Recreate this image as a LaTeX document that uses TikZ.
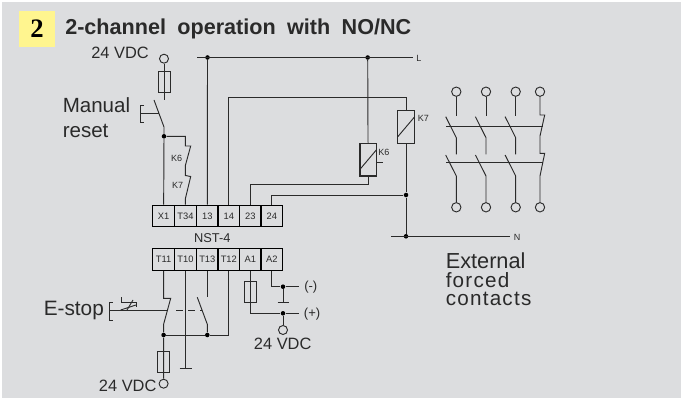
\documentclass[tikz,border=0pt]{standalone}
\usepackage{fontspec}
\setmainfont{Liberation Sans}
\newfontfamily\badgefont{Liberation Serif}
\newfontfamily\spacedfont[LetterSpace=6]{Liberation Sans}
\definecolor{panelgray}{HTML}{DCDDDF}
\definecolor{badgeyellow}{HTML}{FFF58F}
\definecolor{inkgray}{HTML}{2A2A2A}
\tikzset{
  wire/.style={line width=0.7pt,draw=inkgray},
  term/.style={draw=black,line width=1pt,minimum width=16.2pt,minimum height=16.2pt,inner sep=0pt,font=\fontsize{7}{8}\selectfont,text=inkgray},
  fuse/.style={draw=inkgray,line width=0.7pt,minimum width=9pt,minimum height=16pt,inner sep=0pt},
  coil/.style={draw=inkgray,line width=1pt,minimum width=12.4pt,minimum height=24.5pt,inner sep=0pt},
  pin/.style={circle,draw=inkgray,line width=0.7pt,minimum size=6.75pt,inner sep=0pt},
  dot/.style={circle,fill=black,minimum size=3.4pt,inner sep=0pt},
  vdc/.style={text=inkgray,inner sep=0pt,font=\fontsize{12.3}{14}\selectfont},
  big/.style={text=inkgray,inner sep=0pt,anchor=west,font=\fontsize{15.4}{18}\selectfont},
  tiny/.style={text=inkgray,inner sep=0pt,font=\fontsize{6.75}{8}\selectfont},
}
\begin{document}
\begin{tikzpicture}[x=0.75pt,y=-0.75pt]
\useasboundingbox (0,0) rectangle (683,399);
\fill[panelgray] (2,2) rectangle (681,398);
% heading
\node[fill=badgeyellow,minimum size=27pt,inner sep=0pt] (badge) at (37,28.7) {\badgefont\bfseries\fontsize{20}{20}\selectfont 2};
\node[anchor=base west,inner sep=0pt,text=inkgray] (title) at (65,34.3) {\fontsize{16.2}{18}\selectfont\bfseries 2-channel\hspace{4pt} operation\hspace{4pt} with\hspace{4pt} NO/NC};
% terminals
\foreach \name/\xpos in {X1/163.6,T34/185.5,13/207.3,14/228.8,23/250.3,24/271.8}
  \node[term] (\name) at (\xpos,216) {\name};
\foreach \name/\xpos in {T11/163.6,T10/185.5,T13/207.3,T12/228.8,A1/250.3,A2/271.8}
  \node[term] (\name) at (\xpos,259.5) {\name};
\node[text=inkgray,inner sep=0pt,font=\fontsize{9.6}{11}\selectfont] (nst) at (212.3,237.7) {NST-4};
% manual reset
\node[pin] (vtop) at (164,58.7) {};
\node[vdc] (vtoplbl) at (120,53) {24 VDC};
\node[fuse] (ftop) at (164,81.7) {};
\coordinate (sw0) at (164,100);
\coordinate (sw1) at (154,100);
\coordinate (sw2) at (164,127);
\node[dot] (dreset) at (164,136.3) {};
\draw[wire] (vtop) -- (sw0);
\draw[wire] (sw1) -- (sw2) -- (dreset) -- (X1);
\node[big] (manual) at (62.5,105) {Manual};
\node[big] (reset) at (62.5,131) {reset};
\draw[wire] (144,105.5) -- (140,105.5) -- (140,122) -- (144,122);
\draw[wire] (140,113.5) -- (158.5,113.5);
\draw[wire] (dreset) -| (185.3,146) -- (190.7,146) -- (185.3,165.7) -- (185.3,175.5) -- (190.7,176.5) -- (185.3,199) -- (T34);
\node[tiny] (k6a) at (176.7,158.7) {K6};
\node[tiny] (k7a) at (177.7,185.3) {K7};
% L and N
\coordinate (lstart) at (197,57.5);
\coordinate (lend) at (412.7,57.5);
\node[dot] (dl1) at (207.5,57.5) {};
\node[dot] (dl2) at (367.7,57.5) {};
\draw[wire] (lstart) -- (lend);
\node[tiny,anchor=west] (llbl) at (416,58.5) {L};
\draw[wire] (dl1) -- (13);
\node[coil] (k6) at (368.1,159.7) {};
\node[coil] (k7) at (406,127) {};
\draw[wire] (360,169.3) -- (376.3,150);
\draw[wire] (397.8,136.7) -- (414.2,117.3);
\node[tiny,anchor=west] (k6b) at (378,152) {K6};
\node[tiny,anchor=west] (k7b) at (417.5,118.5) {K7};
\draw[wire] (376.3,162.7) -- (383,162.7);
\draw[wire] (dl2) -- (k6);
\draw[wire] (k7) -- (406,97.7) -| (14);
\draw[wire] (k6) -- (368.1,184) -| (23);
\node[dot] (dk7) at (406,195) {};
\node[dot] (dn) at (406,236.3) {};
\draw[wire] (k7) -- (dk7) -- (dn);
\draw[wire] (dk7) -| (24);
\coordinate (nstart) at (391,236.3);
\coordinate (nend) at (510,236.3);
\draw[wire] (nstart) -- (nend);
\node[tiny] (nlbl) at (517,237.5) {N};
% forced contacts
\foreach \i/\xpos in {1/456.3,2/486,3/515.7} {
  \node[pin,minimum size=7pt] (ptop\i) at (\xpos,91.7) {};
  \node[pin,minimum size=7pt] (pbot\i) at (\xpos,207.3) {};
  \coordinate (up\i) at (\xpos,115.7);
  \coordinate (mid\i) at (\xpos,154.3);
  \draw[wire] (ptop\i) -- (up\i);
  \draw[wire] (\xpos-10.6,116.7) -- (\xpos,137.7) -- (mid\i);
  \draw[wire] (\xpos-10.6,155) -- (\xpos,176) -- (pbot\i);
}
\node[pin,minimum size=7pt] (ptop4) at (540,91.7) {};
\node[pin,minimum size=7pt] (pbot4) at (540,207.3) {};
\draw[wire] (ptop4) -- (540,115) -- (544.7,115) -- (540,136) -- (540,153.3) -- (544.7,153.3) -- (540,176) -- (pbot4);
\draw[wire,line width=1pt] (446,126.7) -- (542.5,126.7);
\draw[wire,line width=1pt] (446,162.7) -- (542.5,162.7);
\node[anchor=base west,text=inkgray,inner sep=0pt,font=\fontsize{16.3}{17}\selectfont] (ext1) at (445.5,268.3) {External};
\node[anchor=base west,text=inkgray,inner sep=0pt,font=\fontsize{15.5}{17}\spacedfont] (ext2) at (445.5,287.7) {forced};
\node[anchor=base west,text=inkgray,inner sep=0pt,font=\fontsize{15.5}{17}\spacedfont] (ext3) at (445.5,305.5) {contacts};
% e-stop
\node[big,font=\fontsize{15.6}{18}\selectfont] (estop) at (43.5,310.5) {E-stop};
\draw[wire] (112.7,302) -- (109.5,302) -- (109.5,320) -- (112.7,320);
\draw[wire] (109.5,310.7) -- (166.7,310.7);
\draw[wire] (121.5,297.5) -- (121.5,302) -- (136.7,302) -- (136.7,307);
\draw[wire] (120.7,310) -- (136,305);
\draw[wire] (133,300) -- (127,310);
\draw[wire,dash pattern=on 5pt off 4pt] (176,310.7) -- (202,310.7);
\node[dot] (dt1) at (163.6,335) {};
\node[dot] (dt2) at (207.3,335) {};
\node[fuse] (fbot) at (163.6,362.3) {};
\node[pin] (vbot) at (163.6,383.7) {};
\node[vdc] (vbotlbl) at (127.7,385.7) {24 VDC};
\draw[wire] (T11) -- (163.6,298.3) -- (170.7,298.3) -- (163.6,324.3) -- (dt1) -- (vbot);
\coordinate (gnd10) at (185.5,368);
\draw[wire] (T10) -- (gnd10);
\draw[wire] (179.5,368) -- (191.5,368);
\coordinate (nc13) at (207.3,297.3);
\draw[wire] (T13) -- (nc13);
\draw[wire] (197.3,297.3) -- (207.3,324.3) -- (dt2);
\draw[wire] (T12) |- (dt2) -- (dt1);
% coil supply
\node[fuse] (fa1) at (250.3,292.2) {};
\node[dot] (dplus) at (283,313.3) {};
\node[dot] (dminus) at (283,286.7) {};
\coordinate (plusend) at (299.3,313.3);
\coordinate (minusend) at (299.3,286.7);
\coordinate (gnda2) at (283,302.7);
\node[pin] (vplus) at (283,330) {};
\draw[wire] (A1) |- (dplus) -- (plusend);
\draw[wire] (dplus) -- (vplus);
\draw[wire] (A2) |- (dminus) -- (minusend);
\draw[wire] (dminus) -- (gnda2);
\draw[wire] (277.5,302.7) -- (289,302.7);
\node[anchor=west,text=inkgray,inner sep=0pt,font=\fontsize{9.8}{12}\selectfont] (minus) at (304,287) {(-)};
\node[anchor=west,text=inkgray,inner sep=0pt,font=\fontsize{9.8}{12}\selectfont] (plus) at (303.7,314) {(+)};
\node[vdc] (vpluslbl) at (282.7,344) {24 VDC};
\end{tikzpicture}
\end{document}
